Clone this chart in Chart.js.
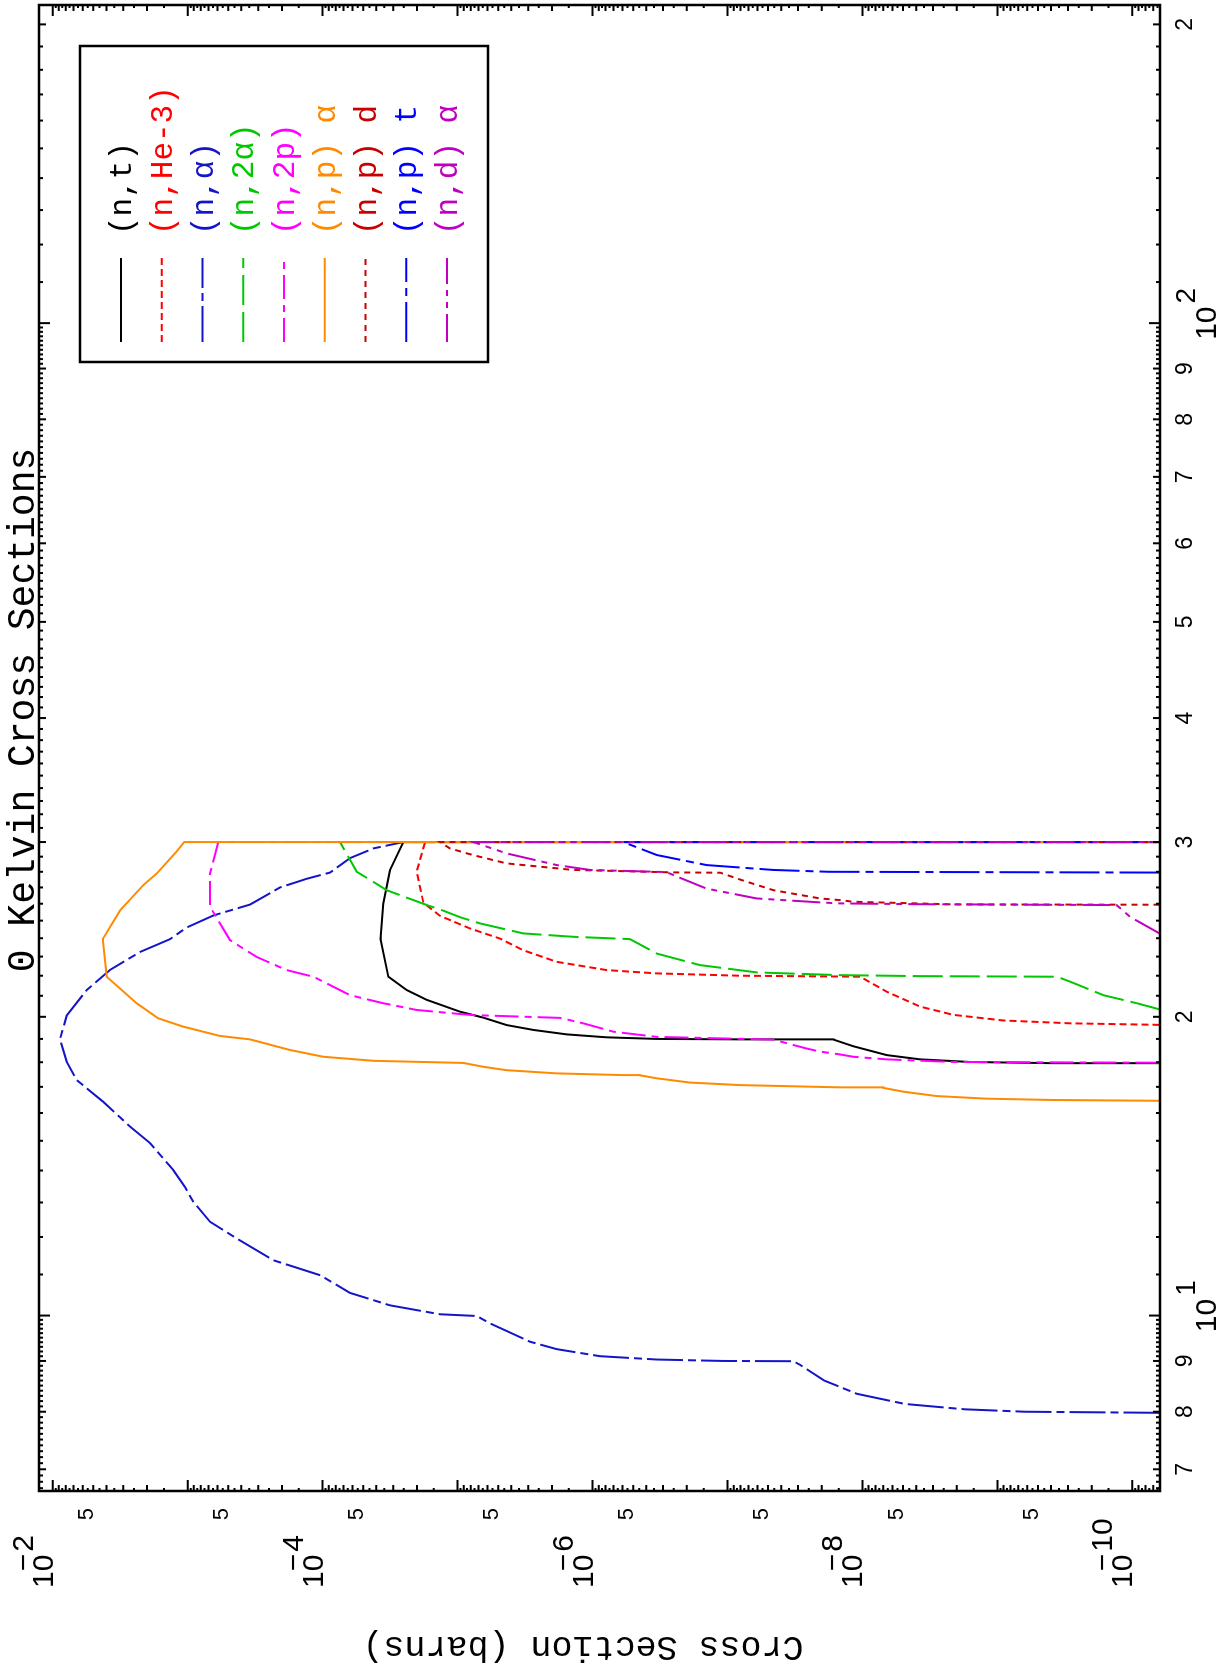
<!DOCTYPE html>
<html>
<head>
<meta charset="utf-8">
<title>0 Kelvin Cross Sections</title>
<script src="https://cdn.jsdelivr.net/npm/chart.js@4.4.1/dist/chart.umd.min.js"></script>
<style>
  html, body { margin: 0; padding: 0; background: #fff; overflow: hidden; }
  /* the plot is drawn landscape and turned a quarter turn, like the printed page */
  #page {
    position: absolute; left: 0; top: 0;
    width: 1669px; height: 1225px;
    transform-origin: 0 0;
    transform: translate(0, 1669px) rotate(-90deg);
  }
  canvas { display: block; }
</style>
</head>
<body>
<div id="page"><canvas id="xs" width="1669" height="1225"></canvas></div>
<script>
// energy in MeV, cross section in barns; 1e-12 = curve falls off the bottom of the plot
const ntE  = [17.93, 17.96, 18.01, 18.12, 18.30, 18.68, 18.97, 18.98, 19.00, 19.07, 19.20, 19.40, 19.62, 19.96, 20.24, 20.80, 21.28, 21.95, 23.95, 26.0, 28.1, 30.0, 30.0];
const ntXS = [6.3e-11, 3.85e-10, 1.60e-9, 3.74e-9, 6.61e-9, 1.17e-8, 1.64e-8, 8.07e-8, 3.34e-7, 7.85e-7, 1.55e-6, 2.74e-6, 4.33e-6, 6.44e-6, 9.59e-6, 1.69e-5, 2.38e-5, 3.26e-5, 3.72e-5, 3.55e-5, 3.17e-5, 2.52e-5, 1e-12];

const nhE  = [19.63, 19.70, 19.83, 20.09, 20.48, 21.20, 21.95, 21.96, 22.00, 22.12, 22.29, 22.72, 23.34, 23.98, 24.55, 25.28, 26.06, 28.0, 30.0, 30.0];
const nhXS = [6.3e-11, 2.89e-10, 9.04e-10, 2.12e-9, 3.74e-9, 6.61e-9, 1.04e-8, 1.47e-8, 8.07e-8, 3.34e-7, 7.85e-7, 1.84e-6, 3.26e-6, 4.85e-6, 8.09e-6, 1.35e-5, 1.79e-5, 2.01e-5, 1.74e-5, 1e-12];

const naE  = [7.98, 8.00, 8.045, 8.145, 8.34, 8.60, 8.92, 8.995, 9.00, 9.03, 9.10, 9.25, 9.41, 9.82, 9.99, 10.03, 10.24, 10.54, 10.98, 11.37, 11.96, 12.43, 13.02, 13.48, 14.02, 14.92, 15.5, 16.42, 17.27, 18.02, 18.98, 20.06, 21.28, 22.3, 23.25, 23.95, 24.6, 25.3, 25.95, 27.0, 27.55, 27.95, 28.9, 29.56, 30.0, 30.0];
const naXS = [6.3e-11, 6.24e-10, 1.74e-9, 4.83e-9, 1.10e-8, 1.92e-8, 2.90e-8, 3.25e-8, 1.07e-7, 3.34e-7, 8.79e-7, 1.84e-6, 2.90e-6, 5.75e-6, 7.21e-6, 1.35e-5, 3.17e-5, 6.27e-5, 1.04e-4, 2.32e-4, 4.34e-4, 6.82e-4, 9.08e-4, 1.05e-3, 1.28e-3, 1.90e-3, 2.67e-3, 4.22e-3, 6.64e-3, 7.87e-3, 8.83e-3, 7.87e-3, 5.60e-3, 3.76e-3, 2.25e-3, 1.35e-3, 1.02e-3, 6.46e-4, 3.45e-4, 2.07e-4, 1.31e-4, 8.81e-5, 6.27e-5, 4.21e-5, 2.52e-5, 1e-12];

const n2aE  = [20.35, 20.64, 21.03, 21.70, 21.95, 21.98, 22.03, 22.17, 22.55, 23.16, 23.95, 24.08, 24.27, 24.84, 25.2, 25.66, 25.92, 26.83, 28.0, 30.0, 30.0];
const n2aXS = [6.3e-11, 9.27e-11, 1.64e-10, 2.89e-10, 3.63e-10, 3.74e-9, 1.47e-8, 6.07e-8, 1.60e-7, 3.34e-7, 5.27e-7, 1.39e-6, 3.26e-6, 6.82e-6, 9.59e-6, 1.35e-5, 1.69e-5, 3.35e-5, 5.58e-5, 7.43e-5, 1e-12];

const n2pE  = [17.98, 18.01, 18.12, 18.23, 18.33, 18.45, 18.58, 18.97, 19.09, 19.32, 19.70, 19.95, 20.08, 20.13, 20.32, 20.64, 21.03, 21.70, 21.95, 22.29, 22.98, 23.89, 25.82, 27.9, 30.0, 30.0];
const n2pXS = [6.3e-11, 2.12e-9, 6.61e-9, 1.17e-8, 1.47e-8, 2.06e-8, 2.59e-8, 4.57e-8, 3.34e-7, 7.00e-7, 1.17e-6, 1.74e-6, 7.64e-6, 9.59e-6, 2.01e-5, 3.55e-5, 6.27e-5, 9.89e-5, 1.17e-4, 1.85e-4, 3.08e-4, 4.85e-4, 6.82e-4, 6.82e-4, 5.93e-4, 1e-12];

const npaE  = [16.46, 16.49, 16.54, 16.64, 16.81, 16.96, 16.98, 17.01, 17.07, 17.17, 17.34, 17.46, 17.47, 17.54, 17.67, 17.81, 17.97, 18.06, 18.23, 18.52, 18.98, 19.13, 19.55, 19.93, 20.64, 21.95, 23.95, 25.6, 27.15, 27.9, 29.34, 30.0, 30.0];
const npaXS = [6.3e-11, 3.85e-10, 1.20e-9, 2.81e-9, 4.98e-9, 7.00e-9, 1.47e-8, 2.59e-8, 8.07e-8, 1.90e-7, 3.34e-7, 4.45e-7, 5.92e-7, 1.84e-6, 4.33e-6, 6.44e-6, 9.06e-6, 4.21e-5, 9.89e-5, 1.75e-4, 3.45e-4, 5.75e-4, 1.08e-3, 1.65e-3, 2.39e-3, 3.98e-3, 4.26e-3, 3.17e-3, 2.13e-3, 1.69e-3, 1.21e-3, 1.06e-3, 1e-12];

const npdE  = [25.94, 25.96, 26.12, 26.22, 26.32, 26.83, 27.50, 27.94, 27.96, 28.12, 28.55, 29.10, 29.56, 30.0, 30.0];
const npdXS = [6.3e-11, 2.12e-9, 1.17e-8, 1.47e-8, 2.06e-8, 4.57e-8, 8.07e-8, 1.13e-7, 2.52e-7, 1.39e-6, 4.33e-6, 7.64e-6, 1.14e-5, 1.35e-5, 1e-12];

const nptE  = [27.95, 28.0, 28.12, 28.44, 29.11, 30.0, 30.0];
const nptXS = [6.3e-11, 1.78e-8, 4.57e-8, 1.43e-7, 3.34e-7, 5.92e-7, 1e-12];

const ndaE  = [24.27, 25.22, 25.92, 25.97, 26.02, 26.08, 26.32, 26.93, 27.79, 27.98, 28.12, 28.44, 29.22, 30.0, 30.0];
const ndaXS = [6.3e-11, 1.04e-10, 1.31e-10, 3.74e-9, 1.47e-8, 2.06e-8, 6.07e-8, 1.43e-7, 2.52e-7, 2.82e-7, 1.04e-6, 1.84e-6, 4.33e-6, 7.64e-6, 1e-12];

const reactions = ['(n,t)', '(n,He-3)', '(n,\u03b1)', '(n,2\u03b1)', '(n,2p)', '(n,p) \u03b1', '(n,p) d', '(n,p) t', '(n,d) \u03b1'];

// tick labels: "a^b" is a power of ten
const energyTicks  = [7, 8, 9, 10, 20, 30, 40, 50, 60, 70, 80, 90, 100, 200];
const energyLabels = ['7', '8', '9', '10^1', '2', '3', '4', '5', '6', '7', '8', '9', '10^2', '2'];
const sigmaTicks   = [1e-2, 5e-3, 5e-4, 1e-4, 5e-5, 5e-6, 1e-6, 5e-7, 5e-8, 1e-8, 5e-9, 5e-10, 1e-10];
const sigmaLabels  = ['10^-2', '5', '5', '10^-4', '5', '5', '10^-6', '5', '5', '10^-8', '5', '5', '10^-10'];


var series = [
  { e: ntE,  s: ntXS,  color: '#000000', dash: [] },
  { e: nhE,  s: nhXS,  color: '#ff0000', dash: [7, 4] },
  { e: naE,  s: naXS,  color: '#1414c8', dash: [36, 5, 8, 5] },
  { e: n2aE, s: n2aXS, color: '#00c800', dash: [30, 7] },
  { e: n2pE, s: n2pXS, color: '#ff00ff', dash: [24, 6, 7, 6] },
  { e: npaE, s: npaXS, color: '#ff8a00', dash: [] },
  { e: npdE, s: npdXS, color: '#c80000', dash: [6, 5] },
  { e: nptE, s: nptXS, color: '#0000ff', dash: [40, 6, 8, 6] },
  { e: ndaE, s: ndaXS, color: '#c000c0', dash: [28, 6, 6, 6, 6, 6] }
];

var MONO = '"Liberation Mono", "DejaVu Sans Mono", monospace';
var SANS = '"Liberation Sans", Arial, sans-serif';

function drawPower(ctx, text, x, y, align, baseSize, supSize, supRise) {
  // base "10" with exponent raised; the minus sits back over the last digit
  var parts = text.split('^');
  ctx.font = baseSize + 'px ' + SANS;
  var w = ctx.measureText(parts[0]).width;
  var left = align === 'center' ? x - w / 2 : x;
  ctx.textAlign = 'left';
  ctx.fillText(parts[0], left, y);
  var exp = parts[1];
  ctx.font = supSize + 'px ' + SANS;
  if (exp.charAt(0) === '-') {
    ctx.textAlign = 'right';
    ctx.fillText('\u2212', left + w + 1, y - supRise);
    exp = exp.slice(1);
  }
  ctx.textAlign = 'left';
  ctx.fillText(exp, left + w + 3, y - supRise);
}

var frameAxes = {
  id: 'frameAxes',
  afterDatasetsDraw: function (chart) {
    var ctx = chart.ctx, a = chart.chartArea;
    var xs = chart.scales.x, ys = chart.scales.y;
    ctx.save();
    ctx.strokeStyle = '#000';
    ctx.lineWidth = 2;
    ctx.beginPath();

    // energy ticks, pointing inward on bottom and top
    for (var b = 1; b <= 100; b *= 10) {
      for (var k = 10; k < 100; k++) {
        var v = b * k / 10;
        if (v < xs.min || v > xs.max) continue;
        var len = k === 10 ? 11 : (k % 10 === 0 ? 7 : 4);
        var px = xs.getPixelForValue(v);
        ctx.moveTo(px, a.bottom); ctx.lineTo(px, a.bottom - len);
        ctx.moveTo(px, a.top);    ctx.lineTo(px, a.top + len);
      }
    }
    // cross-section ticks, on left and right
    for (var p = -11; p <= -2; p++) {
      for (var h = 2; h < 20; h++) {
        var sv = Math.pow(10, p) * h / 2;
        if (sv < ys.min || sv > ys.max) continue;
        var sl = h === 2 ? 11 : (h % 2 === 0 ? 6 : 3);
        var py = ys.getPixelForValue(sv);
        ctx.moveTo(a.left, py);  ctx.lineTo(a.left + sl, py);
        ctx.moveTo(a.right, py); ctx.lineTo(a.right - sl, py);
      }
    }
    ctx.stroke();

    ctx.lineWidth = 2.5;
    ctx.strokeRect(a.left, a.top, a.right - a.left, a.bottom - a.top);
    ctx.restore();
  },
  afterDraw: function (chart) {
    var ctx = chart.ctx, a = chart.chartArea;
    var xs = chart.scales.x, ys = chart.scales.y;
    ctx.save();
    ctx.fillStyle = '#000';
    ctx.textBaseline = 'alphabetic';

    energyTicks.forEach(function (v, i) {
      var px = xs.getPixelForValue(v);
      var t = energyLabels[i];
      if (t.indexOf('^') >= 0) {
        drawPower(ctx, t, px, a.bottom + 56, 'center', 30, 28, 21);
      } else {
        ctx.font = '23px ' + SANS;
        ctx.textAlign = 'center';
        ctx.fillText(t, px, a.bottom + 32);
      }
    });

    sigmaTicks.forEach(function (v, i) {
      var py = ys.getPixelForValue(v);
      var t = sigmaLabels[i];
      if (t.indexOf('^') >= 0) {
        drawPower(ctx, t, a.left - 97, py, 'left', 30, 30, 20);
      } else {
        ctx.font = '22px ' + SANS;
        ctx.textAlign = 'right';
        ctx.fillText(t, a.left - 17, py);
      }
    });

    // title and axis title
    ctx.font = '38px ' + MONO;
    ctx.textAlign = 'center';
    ctx.fillText('0 Kelvin Cross Sections', 959, 34);

    ctx.save();
    ctx.translate(32, 583);
    ctx.rotate(-Math.PI / 2);
    ctx.font = '35px ' + MONO;
    ctx.fillText('Cross Section (barns)', 0, 0);
    ctx.restore();

    // legend box
    var lx = 1307, ly = 80, lw = 316, lh = 408;
    ctx.lineWidth = 2.5;
    ctx.strokeStyle = '#000';
    ctx.strokeRect(lx, ly, lw, lh);
    chart.data.datasets.forEach(function (ds, i) {
      var ry = 121 + i * 40.75;
      ctx.beginPath();
      ctx.strokeStyle = ds.borderColor;
      ctx.lineWidth = 2;
      ctx.setLineDash(ds.borderDash);
      ctx.moveTo(1327, ry);
      ctx.lineTo(1411, ry);
      ctx.stroke();
      ctx.setLineDash([]);
      ctx.fillStyle = ds.borderColor;
      ctx.font = '31px ' + MONO;
      ctx.textAlign = 'left';
      ctx.fillText(ds.label, 1434, ry + 10);
    });
    ctx.restore();
  }
};

function viewChart() {
  var datasets = series.map(function (r, i) {
    return {
      label: reactions[i],
      data: r.e.map(function (e, j) { return { x: e, y: r.s[j] }; }),
      borderColor: r.color,
      backgroundColor: r.color,
      borderDash: r.dash,
      borderWidth: 2,
      pointRadius: 0,
      tension: 0,
      fill: false,
      order: series.length - i
    };
  });

  new Chart(document.getElementById('xs').getContext('2d'), {
    type: 'line',
    data: { datasets: datasets },
    options: {
      responsive: false,
      animation: false,
      layout: { padding: { left: 178, top: 39, right: 5, bottom: 65 } },
      plugins: { legend: { display: false }, title: { display: false }, tooltip: { enabled: false } },
      scales: {
        x: { type: 'logarithmic', min: 6.656, max: 209.2, display: false },
        y: { type: 'logarithmic', min: 6.24e-11, max: 0.01263, display: false }
      }
    },
    plugins: [frameAxes]
  });
}

viewChart();
</script>
</body>
</html>
